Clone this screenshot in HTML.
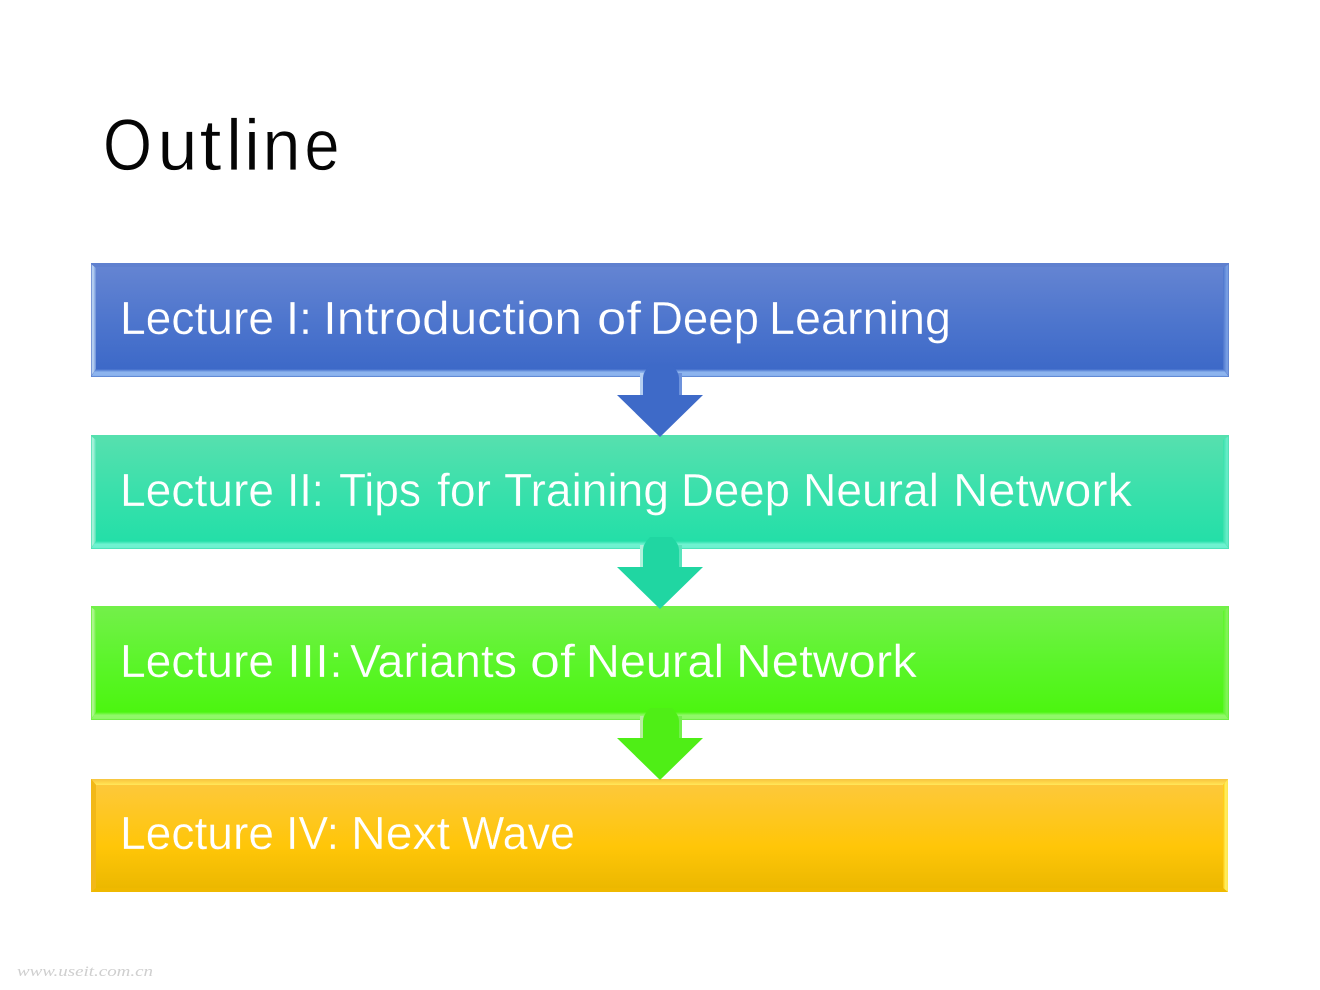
<!DOCTYPE html>
<html>
<head>
<meta charset="utf-8">
<style>
html,body{margin:0;padding:0;background:#fff;width:1320px;height:990px;overflow:hidden}
svg{display:block}
text{font-family:"Liberation Sans",sans-serif}
.t text{font-size:46px;fill:#fff;stroke-width:.35px}
.o text{font-size:72px;fill:#050505;stroke:#fff;stroke-width:.7px}
</style>
</head>
<body>
<svg width="1320" height="990" viewBox="0 0 1320 990" xmlns="http://www.w3.org/2000/svg">
<defs>
<linearGradient id="b1" x1="0" y1="0" x2="0" y2="1"><stop offset="0" stop-color="#6484d2"/><stop offset=".55" stop-color="#4d75cd"/><stop offset="1" stop-color="#3d69c8"/></linearGradient>
<linearGradient id="b2" x1="0" y1="0" x2="0" y2="1"><stop offset="0" stop-color="#55e0ae"/><stop offset=".55" stop-color="#38e0ab"/><stop offset="1" stop-color="#24dfa8"/></linearGradient>
<linearGradient id="b3" x1="0" y1="0" x2="0" y2="1"><stop offset="0" stop-color="#72f048"/><stop offset=".55" stop-color="#5af528"/><stop offset="1" stop-color="#4cf510"/></linearGradient>
<linearGradient id="b4" x1="0" y1="0" x2="0" y2="1"><stop offset="0" stop-color="#fdc83a"/><stop offset=".6" stop-color="#ffc608"/><stop offset="1" stop-color="#ecb800"/></linearGradient>
<linearGradient id="e1" x1="0" y1="0" x2="0" y2="1"><stop offset="0" stop-color="#3d69c8"/><stop offset=".4" stop-color="#8db4ee"/><stop offset=".82" stop-color="#8db4ee"/><stop offset="1" stop-color="#4a74c8"/></linearGradient>
<linearGradient id="e2" x1="0" y1="0" x2="0" y2="1"><stop offset="0" stop-color="#24dfa8"/><stop offset=".4" stop-color="#6ff2d0"/><stop offset=".82" stop-color="#6ff2d0"/><stop offset="1" stop-color="#3ddcae"/></linearGradient>
<linearGradient id="e3" x1="0" y1="0" x2="0" y2="1"><stop offset="0" stop-color="#4cf510"/><stop offset=".4" stop-color="#90f868"/><stop offset=".82" stop-color="#90f868"/><stop offset="1" stop-color="#5eec30"/></linearGradient>
<linearGradient id="l1" x1="0" y1="0" x2="1" y2="0"><stop offset="0" stop-color="#5b7ccb"/><stop offset=".35" stop-color="#c4dcf6"/><stop offset="1" stop-color="#6d90d8"/></linearGradient>
<linearGradient id="l2" x1="0" y1="0" x2="1" y2="0"><stop offset="0" stop-color="#4adcb0"/><stop offset=".35" stop-color="#b5f5e0"/><stop offset="1" stop-color="#52e2b4"/></linearGradient>
<linearGradient id="l3" x1="0" y1="0" x2="1" y2="0"><stop offset="0" stop-color="#62ec38"/><stop offset=".35" stop-color="#baf89e"/><stop offset="1" stop-color="#6cf040"/></linearGradient>
<linearGradient id="r1" x1="0" y1="0" x2="1" y2="0"><stop offset="0" stop-color="#4d75cd"/><stop offset=".7" stop-color="#7da4e6"/><stop offset="1" stop-color="#5b7ccb"/></linearGradient>
<linearGradient id="r2" x1="0" y1="0" x2="1" y2="0"><stop offset="0" stop-color="#38e0ab"/><stop offset=".7" stop-color="#6ceecb"/><stop offset="1" stop-color="#4adcb0"/></linearGradient>
<linearGradient id="r3" x1="0" y1="0" x2="1" y2="0"><stop offset="0" stop-color="#5af528"/><stop offset=".7" stop-color="#88f45e"/><stop offset="1" stop-color="#62ec38"/></linearGradient>
<linearGradient id="tt4" x1="0" y1="0" x2="0" y2="1"><stop offset="0" stop-color="#f6c440"/><stop offset=".6" stop-color="#ffd84a"/><stop offset="1" stop-color="#ffe85c"/></linearGradient>
<linearGradient id="rr4" x1="0" y1="0" x2="1" y2="0"><stop offset="0" stop-color="#ffc608"/><stop offset=".5" stop-color="#fff060"/><stop offset="1" stop-color="#ffe44c"/></linearGradient>
</defs>

<g class="o">
<text x="103" y="170" textLength="49" lengthAdjust="spacingAndGlyphs">O</text>
<text x="157.500" y="170" textLength="40" lengthAdjust="spacingAndGlyphs">u</text>
<text x="199.500" y="170" textLength="22" lengthAdjust="spacingAndGlyphs">t</text>
<text x="226" y="170" textLength="16" lengthAdjust="spacingAndGlyphs">l</text>
<text x="244" y="170" textLength="16" lengthAdjust="spacingAndGlyphs">i</text>
<text x="262.500" y="170" textLength="38" lengthAdjust="spacingAndGlyphs">n</text>
<text x="304.500" y="170" textLength="35" lengthAdjust="spacingAndGlyphs">e</text>
</g>

<!-- Box 1 -->
<rect x="91" y="263" width="1138" height="114" fill="#5f80cf"/>
<rect x="96" y="267" width="1127" height="102" fill="url(#b1)"/>
<polygon points="91,264 96,268 96,369 91,376" fill="url(#l1)"/>
<polygon points="1229,264 1223,268 1223,369 1229,376" fill="url(#r1)"/>
<polygon points="91,377 96,369 1223,369 1229,377" fill="url(#e1)"/>

<!-- Box 2 -->
<rect x="91" y="435" width="1138" height="114" fill="#55e0ae"/>
<rect x="96" y="439" width="1127" height="102" fill="url(#b2)"/>
<polygon points="91,436 96,440 96,541 91,548" fill="url(#l2)"/>
<polygon points="1229,436 1223,440 1223,541 1229,548" fill="url(#r2)"/>
<polygon points="91,549 96,541 1223,541 1229,549" fill="url(#e2)"/>

<!-- Box 3 -->
<rect x="91" y="606" width="1138" height="114" fill="#72f048"/>
<rect x="96" y="610" width="1127" height="102" fill="url(#b3)"/>
<polygon points="91,607 96,611 96,712 91,719" fill="url(#l3)"/>
<polygon points="1229,607 1223,611 1223,712 1229,719" fill="url(#r3)"/>
<polygon points="91,720 96,712 1223,712 1229,720" fill="url(#e3)"/>

<!-- Box 4 -->
<rect x="91" y="779" width="1137" height="113" fill="#efb900"/>
<rect x="96" y="785" width="1127" height="103" fill="url(#b4)"/>
<polygon points="91,779 96,785 1223,785 1228,779" fill="url(#tt4)"/>
<polygon points="91,779 96,785 96,888 91,892" fill="#f2b818"/>
<polygon points="1228,779 1223,785 1223,888 1228,892" fill="url(#rr4)"/>

<!-- Arrows -->
<g>
<rect x="640" y="373" width="3.500" height="22" fill="#b5cff2"/>
<rect x="678" y="373" width="4" height="22" fill="#6d92dc"/>
<path d="M643,395 V378 Q643,372 650,365 H672 Q679,372 679,378 V395 H703 L660,437 L617,395 Z" fill="#3e6ac8"/>
</g>
<g>
<rect x="640" y="545" width="3.500" height="22" fill="#b0f2dc"/>
<rect x="678" y="545" width="4" height="22" fill="#58e4bc"/>
<path d="M643,567 V550 Q643,544 650,537 H672 Q679,544 679,550 V567 H703 L660,609 L617,567 Z" fill="#20d6a2"/>
</g>
<g>
<rect x="640" y="716" width="3.500" height="22" fill="#b8eca0"/>
<rect x="678" y="716" width="4" height="22" fill="#74f04c"/>
<path d="M643,738 V721 Q643,715 650,708 H672 Q679,715 679,721 V738 H703 L660,780 L617,738 Z" fill="#4fee16"/>
</g>

<g class="t" style="stroke:#4c74cc">
<text x="120" y="334" textLength="154" lengthAdjust="spacingAndGlyphs">Lecture</text>
<text x="286" y="334" textLength="26" lengthAdjust="spacingAndGlyphs">I:</text>
<text x="323" y="334" textLength="259" lengthAdjust="spacingAndGlyphs">Introduction</text>
<text x="597" y="334" textLength="44" lengthAdjust="spacingAndGlyphs">of</text>
<text x="650" y="334" textLength="109" lengthAdjust="spacingAndGlyphs">Deep</text>
<text x="769" y="334" textLength="182" lengthAdjust="spacingAndGlyphs">Learning</text>
</g>
<g class="t" style="stroke:#38e0ab">
<text x="120" y="506" textLength="154" lengthAdjust="spacingAndGlyphs">Lecture</text>
<text x="287" y="506" textLength="37" lengthAdjust="spacingAndGlyphs">II:</text>
<text x="339" y="506" textLength="82" lengthAdjust="spacingAndGlyphs">Tips</text>
<text x="437" y="506" textLength="54" lengthAdjust="spacingAndGlyphs">for</text>
<text x="504" y="506" textLength="165" lengthAdjust="spacingAndGlyphs">Training</text>
<text x="681" y="506" textLength="109" lengthAdjust="spacingAndGlyphs">Deep</text>
<text x="803" y="506" textLength="136" lengthAdjust="spacingAndGlyphs">Neural</text>
<text x="953" y="506" textLength="179" lengthAdjust="spacingAndGlyphs">Network</text>
</g>
<g class="t" style="stroke:#5af528">
<text x="120" y="677" textLength="154" lengthAdjust="spacingAndGlyphs">Lecture</text>
<text x="287" y="677" textLength="56" lengthAdjust="spacingAndGlyphs">III:</text>
<text x="350" y="677" textLength="167" lengthAdjust="spacingAndGlyphs">Variants</text>
<text x="530" y="677" textLength="45" lengthAdjust="spacingAndGlyphs">of</text>
<text x="586" y="677" textLength="138" lengthAdjust="spacingAndGlyphs">Neural</text>
<text x="736" y="677" textLength="181" lengthAdjust="spacingAndGlyphs">Network</text>
</g>
<g class="t" style="stroke:#ffc60e">
<text x="120" y="849" textLength="154" lengthAdjust="spacingAndGlyphs">Lecture</text>
<text x="286" y="849" textLength="53" lengthAdjust="spacingAndGlyphs">IV:</text>
<text x="351" y="849" textLength="99" lengthAdjust="spacingAndGlyphs">Next</text>
<text x="462" y="849" textLength="113" lengthAdjust="spacingAndGlyphs">Wave</text>
</g>

<text x="17" y="976" font-size="15" fill="#cfcfcf" textLength="136" lengthAdjust="spacingAndGlyphs" style="font-family:'Liberation Serif',serif;font-style:italic">www.useit.com.cn</text>
</svg>
</body>
</html>
